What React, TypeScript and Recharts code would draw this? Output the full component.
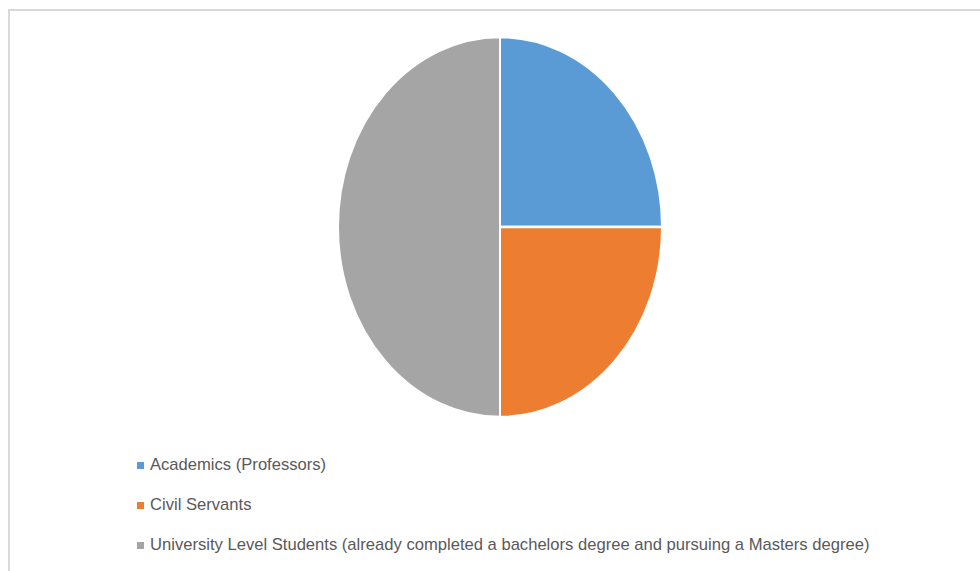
import React from 'react';
import { PieChart, Pie, Cell, Legend } from 'recharts';

const categories = [
  'Academics (Professors)',
  'Civil Servants',
  'University Level Students (already completed a bachelors degree and pursuing a Masters degree)',
];
const shares = [25, 25, 50];
const colors = ['#5b9bd5', '#ed7d31', '#a5a5a5'];

const data = categories.map((name, i) => ({ name, value: shares[i] }));

// the original pie is stretched vertically (ellipse), so the pie group gets scaled
const CX = 500;
const CY = 227;
const RX = 162;
const RY = 190;

const LegendList: React.FC<any> = () => (
  <div style={{ fontFamily: '"Liberation Sans", Arial, sans-serif', fontSize: 16.6, color: '#595959' }}>
    {categories.map((c, i) => (
      <div key={c} style={{ display: 'flex', alignItems: 'center', height: 40 }}>
        <span style={{ width: 7, height: 7, background: colors[i], marginRight: 6, display: 'inline-block' }} />
        <span>{c}</span>
      </div>
    ))}
  </div>
);

export default function App() {
  return (
    <div style={{ position: 'absolute', left: 0, top: 0, width: 980, height: 571, overflow: 'hidden', background: '#fff' }}>
      <style>{`.recharts-pie { transform: scaleY(${RY / RX}); transform-origin: ${CX}px ${CY}px; }`}</style>
      <div style={{ position: 'absolute', left: 8, top: 9, width: 1100, height: 700, border: '2px solid #d9d9d9' }} />
      <div style={{ position: 'absolute', left: 0, top: 0 }}>
        <PieChart width={980} height={571} margin={{ top: 0, right: 0, bottom: 0, left: 0 }}>
          <Pie
            data={data}
            dataKey="value"
            nameKey="name"
            cx={CX}
            cy={CY}
            outerRadius={RX}
            startAngle={90}
            endAngle={-270}
            stroke="#ffffff"
            strokeWidth={2}
            isAnimationActive={false}
          >
            {data.map((d, i) => (
              <Cell key={d.name} fill={colors[i]} />
            ))}
          </Pie>
          <Legend
            content={<LegendList />}
            wrapperStyle={{ left: 137, top: 445, width: 820, bottom: 'auto' }}
          />
        </PieChart>
      </div>
    </div>
  );
}
